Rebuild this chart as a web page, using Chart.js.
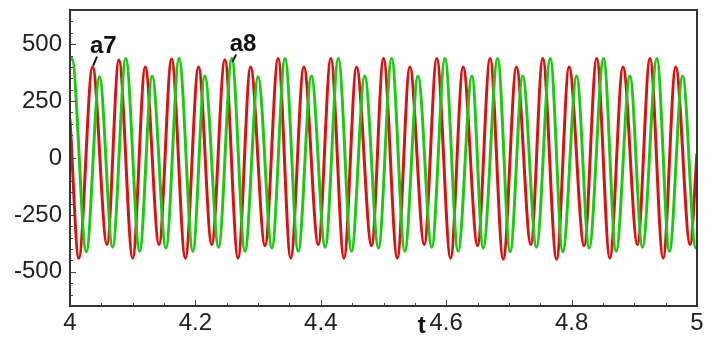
<!DOCTYPE html>
<html>
<head>
<meta charset="utf-8">
<script src="https://cdn.jsdelivr.net/npm/chart.js@4.4.1/dist/chart.umd.min.js"></script>
<style>
html, body { margin: 0; padding: 0; background: #fff; }
#wrap { width: 709px; height: 345px; }
</style>
</head>
<body>
<div id="wrap"><canvas id="waveChart"></canvas></div>
<script>
// red signal: turning points (t, value)
const redT = [4.000, 4.014, 4.036, 4.059, 4.078, 4.100, 4.120, 4.142, 4.162, 4.184,
    4.205, 4.226, 4.247, 4.268, 4.288, 4.311, 4.332, 4.352, 4.373, 4.396,
    4.416, 4.437, 4.457, 4.481, 4.500, 4.522, 4.542, 4.565, 4.585, 4.607,
    4.627, 4.650, 4.670, 4.691, 4.712, 4.735, 4.754, 4.776, 4.796, 4.820,
    4.840, 4.861, 4.882, 4.905, 4.925, 4.946, 4.966, 4.989, 5.000];
const redV = [170, -440, 400, -380, 430, -440, 400, -380, 435, -440,
    400, -380, 432, -440, 400, -385, 437, -440, 400, -380,
    437, -440, 400, -385, 437, -440, 400, -380, 437, -440,
    400, -385, 437, -445, 400, -380, 437, -445, 400, -385,
    437, -440, 400, -380, 437, -440, 400, -380, 20];

// green signal
const greenT = [4.000, 4.003, 4.026, 4.047, 4.068, 4.089, 4.111, 4.131, 4.153, 4.174,
    4.196, 4.215, 4.237, 4.258, 4.279, 4.300, 4.322, 4.343, 4.364, 4.385,
    4.407, 4.428, 4.449, 4.470, 4.492, 4.513, 4.534, 4.555, 4.577, 4.598,
    4.619, 4.641, 4.659, 4.682, 4.702, 4.722, 4.744, 4.766, 4.786, 4.808,
    4.828, 4.851, 4.871, 4.893, 4.913, 4.936, 4.956, 4.977, 4.998, 5.000];
const greenV = [430, 437, -412, 357, -392, 437, -410, 360, -395, 437,
    -410, 360, -392, 437, -410, 357, -395, 437, -410, 360,
    -392, 437, -410, 360, -395, 437, -410, 360, -392, 437,
    -410, 360, -395, 437, -412, 360, -392, 437, -412, 360,
    -395, 437, -410, 360, -392, 437, -410, 360, -395, -390];

const xTicks = [4, 4.2, 4.4, 4.6, 4.8, 5];
const yTicks = [-500, -250, 0, 250, 500];

const xMin = 4, xMax = 5, yMin = -650, yMax = 650;

function toPoints(ts, vs) {
    return ts.map((t, i) => ({ x: t, y: vs[i] }));
}

// frame, inward ticks, axis title and the a7/a8 notes
const framePlugin = {
    id: "framePlugin",
    afterDraw(chart) {
        const { ctx, chartArea: a, scales: { x, y } } = chart;
        ctx.save();
        ctx.strokeStyle = "#444";
        ctx.lineWidth = 1;
        ctx.beginPath();
        for (let k = 0; k <= 26; k++) {
            const v = yMin + k * 50;
            const py = Math.round(y.getPixelForValue(v)) + 0.5;
            const len = v % 250 === 0 ? 6 : 3;
            ctx.moveTo(a.left, py);
            ctx.lineTo(a.left + len, py);
        }
        for (let k = 0; k <= 20; k++) {
            const v = xMin + k * 0.05;
            const px = Math.round(x.getPixelForValue(v)) + 0.5;
            const len = k % 4 === 0 ? 6 : 3;
            ctx.moveTo(px, a.bottom);
            ctx.lineTo(px, a.bottom - len);
        }
        ctx.stroke();

        ctx.strokeStyle = "#333";
        ctx.lineWidth = 2;
        ctx.strokeRect(a.left, a.top, a.right - a.left, a.bottom - a.top);

        // axis title "t"
        ctx.fillStyle = "#111";
        ctx.font = "bold 24px 'Liberation Sans', Arial, sans-serif";
        ctx.textAlign = "center";
        ctx.textBaseline = "alphabetic";
        ctx.fillText("t", x.getPixelForValue(4.561), a.bottom + 27);

        // notes
        const notes = [
            { text: "a7", tx: 4.053, tv: 490, from: [4.043, 445], to: [4.037, 406] },
            { text: "a8", tx: 4.276, tv: 498, from: [4.265, 454], to: [4.259, 422] }
        ];
        ctx.font = "bold 24px 'Liberation Sans', Arial, sans-serif";
        ctx.textBaseline = "middle";
        ctx.lineWidth = 2;
        ctx.strokeStyle = "#111";
        notes.forEach((n) => {
            ctx.fillText(n.text, x.getPixelForValue(n.tx), y.getPixelForValue(n.tv));
            ctx.beginPath();
            ctx.moveTo(x.getPixelForValue(n.from[0]), y.getPixelForValue(n.from[1]));
            ctx.lineTo(x.getPixelForValue(n.to[0]), y.getPixelForValue(n.to[1]));
            ctx.stroke();
        });
        ctx.restore();
    },
};

new Chart(document.getElementById("waveChart"), {
    type: "line",
    data: {
        datasets: [
            {
                label: "red",
                data: toPoints(redT, redV),
                borderColor: "#d81212",
                borderWidth: 3,
                pointRadius: 0,
                cubicInterpolationMode: "monotone",
                order: 2,
            },
            {
                label: "green",
                data: toPoints(greenT, greenV),
                borderColor: "#1ec814",
                borderWidth: 3,
                pointRadius: 0,
                cubicInterpolationMode: "monotone",
                order: 1,
            },
        ],
    },
    options: {
        responsive: true,
        maintainAspectRatio: false,
        animation: false,
        layout: {
            padding: { left: 0, top: 10, right: 12, bottom: 0 },
        },
        scales: {
            x: {
                type: "linear",
                min: xMin,
                max: xMax,
                grid: { display: false, drawTicks: false },
                border: { display: false },
                afterBuildTicks: (scale) => {
                    scale.ticks = xTicks.map((v) => ({ value: v }));
                },
                afterFit: (scale) => {
                    scale.height = 39;
                    scale.paddingLeft = 0;
                    scale.paddingRight = 0;
                },
                ticks: {
                    autoSkip: false,
                    maxRotation: 0,
                    padding: 3,
                    color: "#222",
                    font: { family: "'Liberation Sans', Arial, sans-serif", size: 24 },
                    callback: (v) => String(Number(v.toFixed(1))),
                },
            },
            y: {
                min: yMin,
                max: yMax,
                grid: { display: false, drawTicks: false },
                border: { display: false },
                afterBuildTicks: (scale) => {
                    scale.ticks = yTicks.map((v) => ({ value: v }));
                },
                afterFit: (scale) => {
                    scale.width = 70;
                    scale.paddingTop = 0;
                    scale.paddingBottom = 0;
                },
                ticks: {
                    padding: 8,
                    color: "#222",
                    font: { family: "'Liberation Sans', Arial, sans-serif", size: 24 },
                },
            },
        },
        plugins: {
            legend: { display: false },
            tooltip: { enabled: false },
        },
    },
    plugins: [framePlugin],
});
</script>
</body>
</html>
